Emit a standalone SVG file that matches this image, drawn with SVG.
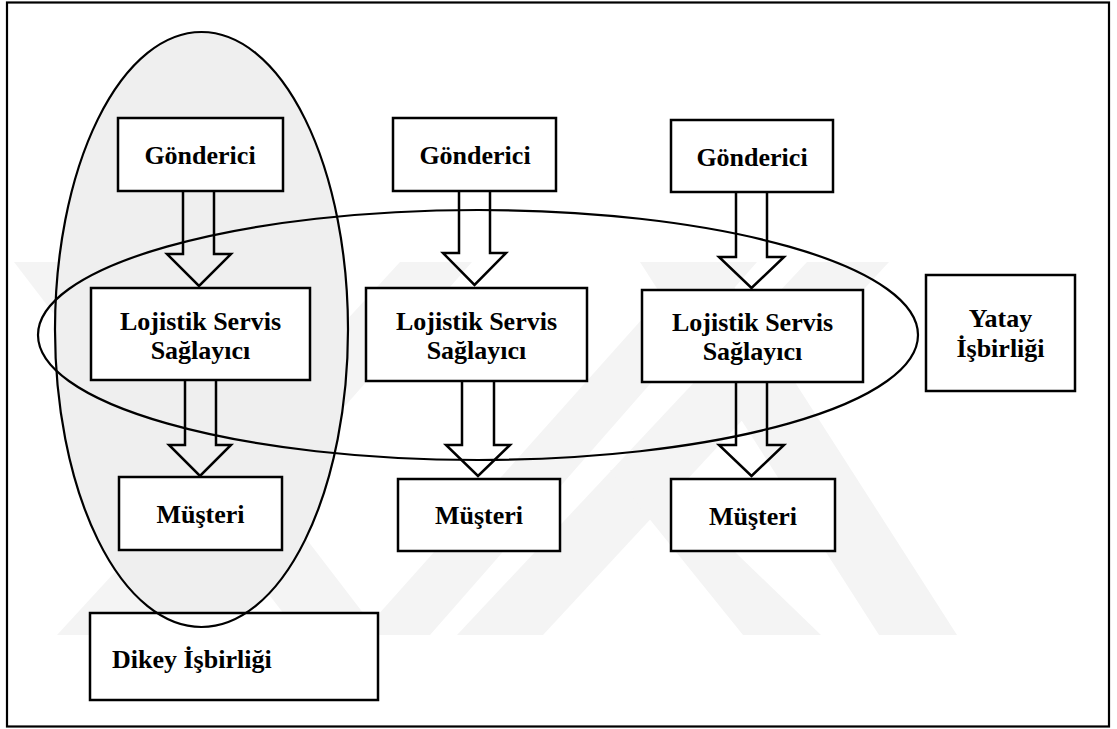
<svg xmlns="http://www.w3.org/2000/svg" width="1117" height="729" viewBox="0 0 1117 729">
  <style>
    .box { fill: #ffffff; stroke: #000000; stroke-width: 2.5; }
    .lbl { font-family: "Liberation Serif", "Times New Roman", serif; font-weight: bold; font-size: 26px; fill: #000000; }
    .mid { text-anchor: middle; }
    .arrow { fill: none; stroke: #000000; stroke-width: 2.5; stroke-linejoin: miter; }
    .ring { fill: none; stroke: #000000; stroke-width: 2.2; }
    .band { fill: #f4f4f4; }
  </style>

  <!-- page -->
  <rect x="0" y="0" width="1117" height="729" fill="#ffffff"/>

  <!-- faint background emblem -->
  <g id="emblem">
    <polygon class="band" points="400,262 472,262 143,635 57,635"/>
    <polygon class="band" points="14,262 94,262 380,635 300,635"/>
    <polygon class="band" points="693,262 757,262 430,635 360,635"/>
    <polygon class="band" points="807,262 889,262 543,635 457,635"/>
    <polygon class="band" points="610,470 650,470 821,635 743,635"/>
    <polygon class="band" points="640,262 718,262 957,635 879,635"/>
  </g>

  <!-- outer frame -->
  <rect x="7" y="2.5" width="1102" height="724" fill="none" stroke="#000000" stroke-width="2.2"/>

  <!-- shaded region of the vertical grouping -->
  <ellipse id="dikey-area" cx="201.5" cy="329.5" rx="146.5" ry="297.5" fill="#efefef"/>

  <!-- nodes -->
  <g id="gonderici-1">
    <rect class="box" x="118" y="118" width="165" height="73"/>
    <text class="lbl mid" x="200" y="164">Gönderici</text>
  </g>
  <g id="gonderici-2">
    <rect class="box" x="393" y="118" width="163" height="73"/>
    <text class="lbl mid" x="475" y="164">Gönderici</text>
  </g>
  <g id="gonderici-3">
    <rect class="box" x="671" y="120" width="162" height="72"/>
    <text class="lbl mid" x="752" y="166">Gönderici</text>
  </g>

  <g id="lojistik-1">
    <rect class="box" x="91" y="288" width="219" height="92"/>
    <text class="lbl mid" x="200.5" y="330">Lojistik Servis</text>
    <text class="lbl mid" x="200.5" y="359">Sağlayıcı</text>
  </g>
  <g id="lojistik-2">
    <rect class="box" x="366" y="288" width="221" height="93"/>
    <text class="lbl mid" x="476.5" y="330">Lojistik Servis</text>
    <text class="lbl mid" x="476.5" y="359">Sağlayıcı</text>
  </g>
  <g id="lojistik-3">
    <rect class="box" x="642" y="290" width="221" height="92"/>
    <text class="lbl mid" x="752.5" y="331">Lojistik Servis</text>
    <text class="lbl mid" x="752.5" y="360">Sağlayıcı</text>
  </g>

  <g id="musteri-1">
    <rect class="box" x="119" y="477" width="163" height="73"/>
    <text class="lbl mid" x="200.5" y="523">Müşteri</text>
  </g>
  <g id="musteri-2">
    <rect class="box" x="398" y="479" width="162" height="72"/>
    <text class="lbl mid" x="479" y="524">Müşteri</text>
  </g>
  <g id="musteri-3">
    <rect class="box" x="671" y="479" width="164" height="72"/>
    <text class="lbl mid" x="753" y="525">Müşteri</text>
  </g>

  <g id="yatay-isbirligi">
    <rect class="box" x="926" y="275" width="149" height="116"/>
    <text class="lbl mid" x="1000.5" y="327">Yatay</text>
    <text class="lbl mid" x="1000.5" y="357">İşbirliği</text>
  </g>

  <g id="dikey-isbirligi">
    <rect class="box" x="90" y="613" width="288" height="87"/>
    <text class="lbl" x="112" y="668">Dikey İşbirliği</text>
  </g>

  <!-- block arrows -->
  <g id="connectors">
    <path class="arrow" d="M183,191 V254 H167 L199,286 L231,254 H214 V191"/>
    <path class="arrow" d="M459,191 V253 H443 L474.5,285 L506,253 H490 V191"/>
    <path class="arrow" d="M736,192 V257 H719 L751.5,288 L784,257 H767 V192"/>
    <path class="arrow" d="M185,380 V445 H169 L200,476 L231,445 H216 V380"/>
    <path class="arrow" d="M462,381 V445 H446 L478,476 L510,445 H494 V381"/>
    <path class="arrow" d="M736,382 V445 H719 L751.5,476 L784,445 H767 V382"/>
  </g>

  <!-- grouping outlines -->
  <g id="groupings">
    <ellipse id="dikey-ring" class="ring" cx="201.5" cy="329.5" rx="146.5" ry="297.5"/>
    <ellipse id="yatay-ring" class="ring" cx="478" cy="335" rx="440" ry="125"/>
  </g>
</svg>
